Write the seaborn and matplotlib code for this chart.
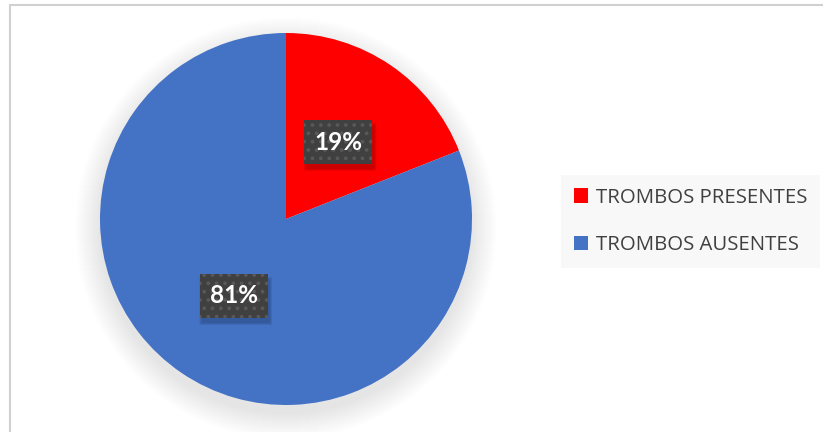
import matplotlib
matplotlib.use("Agg")
import matplotlib.pyplot as plt
import seaborn as sns
from matplotlib.patches import Circle, Rectangle
from matplotlib.lines import Line2D

categories = ["TROMBOS PRESENTES", "TROMBOS AUSENTES"]
values = [19, 81]
colors = ["#ff0000", "#4472c4"]

sns.set_theme(style="white")
plt.rcParams["font.family"] = ["Open Sans", "DejaVu Sans"]
plt.rcParams["hatch.linewidth"] = 1.5

W, H = 823, 432
fig = plt.figure(figsize=(W / 100, H / 100), dpi=100)
fig.patch.set_facecolor("white")
ax = fig.add_axes([0, 0, 1, 1])
ax.set_xlim(0, W)
ax.set_ylim(0, H)
ax.axis("off")

cx, cy, R = 286, H - 219, 186

# soft shadow around the pie
for k in range(26):
    ax.add_patch(Circle((cx, cy - 9), R + k, facecolor="#000000", alpha=0.0045,
                        edgecolor="none", zorder=1))

wedges, texts, autotexts = ax.pie(
    values, colors=colors, startangle=90, counterclock=False,
    center=(cx, cy), radius=R, autopct="%1.0f%%", pctdistance=0.5,
    wedgeprops=dict(linewidth=0, zorder=2),
    textprops=dict(color="white", fontsize=17.5, fontweight="bold",
                   family=["Lato", "DejaVu Sans"]),
)
ax.set_xlim(0, W)
ax.set_ylim(0, H)
ax.set_aspect("equal")

for t in autotexts:
    t.set_zorder(6)
    t.set_bbox(dict(boxstyle="square,pad=0.42", facecolor="#404040",
                    edgecolor="#585858", linewidth=0, hatch=".."))

fig.canvas.draw()
for t in autotexts:
    bb = t.get_bbox_patch().get_window_extent()
    (x0, y0), (x1, y1) = ax.transData.inverted().transform([[bb.x0, bb.y0], [bb.x1, bb.y1]])
    for k in range(6):
        ax.add_patch(Rectangle((x0 + 2 - k * 0.5, y0 - 5 - k * 0.5),
                               (x1 - x0) + k, (y1 - y0) + k,
                               facecolor="#000000", edgecolor="none",
                               alpha=0.035, zorder=5))

leg = ax.legend(
    wedges, categories, loc="upper left",
    bbox_to_anchor=(561 / W, 1 - 175 / H), bbox_transform=fig.transFigure,
    frameon=True, fancybox=False, facecolor="#f8f8f8", edgecolor="none",
    framealpha=1, fontsize=14.7, borderpad=0.62, handlelength=0.68,
    handleheight=0.68, handletextpad=0.4, labelspacing=1.35,
    borderaxespad=0,
)
for txt in leg.get_texts():
    txt.set_color("#404040")

# chart area border (left and top)
fig.add_artist(Line2D([10 / W, 10 / W], [0, 1 - 5 / H], transform=fig.transFigure,
                      color="#d0d0d0", linewidth=1.5))
fig.add_artist(Line2D([10 / W, 1], [1 - 5 / H, 1 - 5 / H], transform=fig.transFigure,
                      color="#d0d0d0", linewidth=1.5))

fig.savefig("out.png", dpi=100)
